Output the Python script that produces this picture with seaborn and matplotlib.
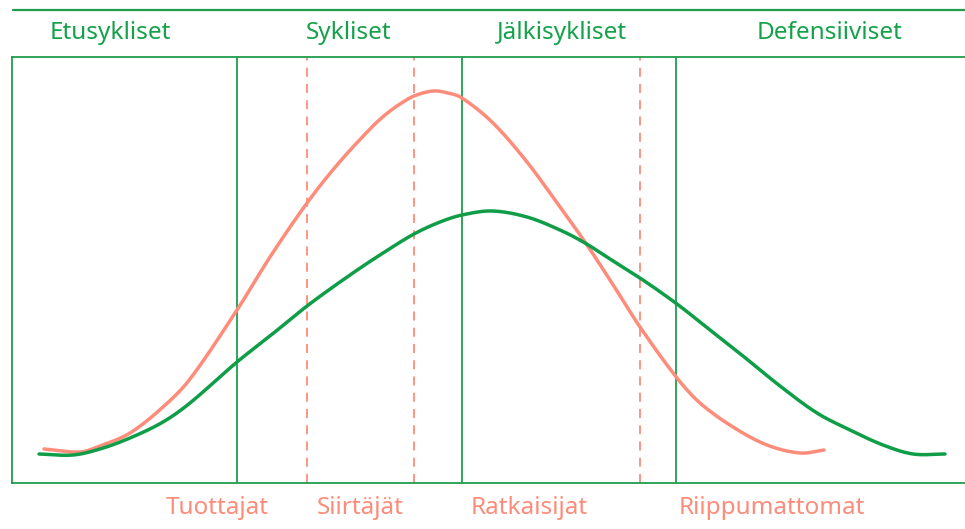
import numpy as np
import pandas as pd
import matplotlib
matplotlib.use("Agg")
import matplotlib.pyplot as plt
from matplotlib.lines import Line2D
import seaborn as sns

# ---- data (x: cycle position, y: relative level) ----
salmon_x = [44, 80, 100, 130, 163, 190, 237, 270, 307, 337, 370, 385, 400, 414, 433, 448,
            462, 493, 527, 560, 585, 610, 640, 677, 700, 733, 767, 800, 824]
salmon_y = [34, 31, 37, 50, 76, 104, 173, 226, 280, 318, 354, 368, 379, 387, 392, 390,
            385, 360, 321, 276, 241, 203, 156, 105, 80, 56, 38, 30, 33]
green_x = [39, 73, 100, 130, 163, 190, 237, 270, 307, 350, 383, 414, 440, 462, 492, 527,
           560, 585, 610, 640, 677, 710, 743, 780, 817, 850, 883, 913, 945]
green_y = [29, 28, 34, 45, 61, 80, 121, 147, 177, 208, 230, 249, 261, 268, 272, 266,
           253, 240, 224, 205, 179, 153, 127, 97, 70, 53, 38, 29, 29]

sector_bounds = [237, 462, 676]          # solid green lines
style_bounds = [307, 414, 640]           # dashed salmon lines
sector_labels = ["Etusykliset", "Sykliset", "Jälkisykliset", "Defensiiviset"]
sector_pos = [110, 349, 562, 830]
style_labels = ["Tuottajat", "Siirtäjät", "Ratkaisijat", "Riippumattomat"]
style_pos = [217, 360, 529, 772]

GREEN = "#13a24a"
GREEN_LINE = "#1f9d4c"
CURVE_GREEN = "#0f9d48"
SALMON = "#fd8c7a"

W, H = 965, 529
X0, X1 = 12, 965
Y_TOP, Y_BOT = 57, 483

sns.set_theme(style="white")
plt.rcParams["font.family"] = ["Noto Sans", "DejaVu Sans"]

fig = plt.figure(figsize=(W / 100, H / 100), dpi=100)
ax = fig.add_axes([X0 / W, 1 - Y_BOT / H, (X1 - X0 + 2) / W, (Y_BOT - Y_TOP) / H])


def smooth_curve(xs, ys, per_seg=24):
    """Cubic Hermite (Catmull-Rom style) through the read points, for drawing only."""
    xx = np.asarray(xs, float)
    yy = np.asarray(ys, float)
    n = len(xx)
    m = np.empty(n)
    for i in range(n):
        a, b = max(i - 1, 0), min(i + 1, n - 1)
        m[i] = (yy[b] - yy[a]) / (xx[b] - xx[a])
    fx, fy = [], []
    for i in range(n - 1):
        h = xx[i + 1] - xx[i]
        t = np.linspace(0, 1, per_seg, endpoint=False)
        h00 = 2 * t**3 - 3 * t**2 + 1
        h10 = t**3 - 2 * t**2 + t
        h01 = -2 * t**3 + 3 * t**2
        h11 = t**3 - t**2
        fx.extend(xx[i] + t * h)
        fy.extend(h00 * yy[i] + h10 * h * m[i] + h01 * yy[i + 1] + h11 * h * m[i + 1])
    fx.append(xx[-1]); fy.append(yy[-1])
    return np.array(fx), np.array(fy)


rows = []
for name, xs, ys in [("salmon", salmon_x, salmon_y), ("green", green_x, green_y)]:
    fx, fy = smooth_curve(xs, ys)
    rows.append(pd.DataFrame({"x": fx, "y": fy, "s": name}))
smooth = pd.concat(rows, ignore_index=True)

sns.lineplot(data=smooth, x="x", y="y", hue="s",
             palette={"salmon": SALMON, "green": CURVE_GREEN},
             linewidth=2.5, sort=False, estimator=None, legend=False, ax=ax, zorder=3)

ax.set_xlim(X0, X1 + 2)
ax.set_ylim(0, Y_BOT - Y_TOP)

for b in sector_bounds:
    ax.axvline(b, color=GREEN_LINE, lw=1.3, zorder=2)
for b in style_bounds:
    ax.axvline(b, color=SALMON, lw=1.3, ls=(0, (5, 4)), zorder=2)

for side in ["left", "top", "bottom"]:
    ax.spines[side].set_color(GREEN_LINE)
    ax.spines[side].set_linewidth(1.3)
    ax.spines[side].set_visible(True)
ax.spines["right"].set_visible(False)
ax.set_xticks([]); ax.set_yticks([])
ax.set_xlabel(""); ax.set_ylabel("")
ax.patch.set_alpha(0)

# top rule
fig.add_artist(Line2D([13 / W, 1.0], [1 - 10 / H, 1 - 10 / H], color=GREEN_LINE, lw=1.6))

for lab, px in zip(sector_labels, sector_pos):
    fig.text(px / W, 1 - 33 / H, lab, color=GREEN, fontsize=17.5, ha="center", va="center")
for lab, px in zip(style_labels, style_pos):
    fig.text(px / W, 1 - 508 / H, lab, color=SALMON, fontsize=17.5, ha="center", va="center")

fig.savefig("out.png", dpi=100, facecolor="white")
